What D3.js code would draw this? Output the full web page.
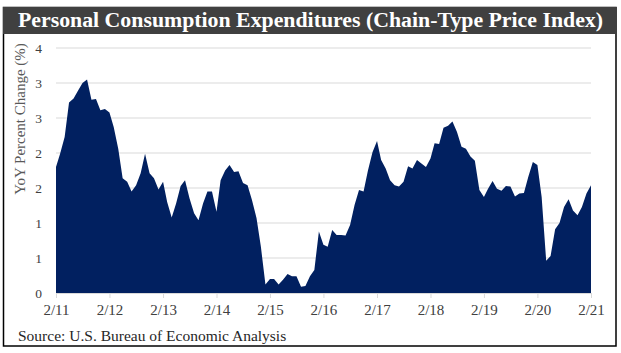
<!DOCTYPE html>
<html>
<head>
<meta charset="utf-8">
<script src="https://cdn.jsdelivr.net/npm/d3@7"></script>
<style>
  body { margin: 0; background: #fff; }
  text { font-family: "Liberation Serif", "DejaVu Serif", serif; }
</style>
</head>
<body>
<script>
// PCE price index, YoY % change, monthly Feb 2011 - Feb 2021
const startMonth = "2011-02";
const pce = [
  1.80, 1.99, 2.23, 2.72, 2.78, 2.89, 3.00, 3.05, 2.76, 2.77, 2.61, 2.63,
  2.58, 2.37, 2.06, 1.64, 1.59, 1.45, 1.54, 1.71, 1.99, 1.71, 1.64, 1.48,
  1.59, 1.30, 1.08, 1.28, 1.53, 1.61, 1.35, 1.14, 1.04, 1.28, 1.45, 1.45,
  1.16, 1.61, 1.75, 1.83, 1.73, 1.74, 1.57, 1.54, 1.33, 1.07, 0.66, 0.12,
  0.20, 0.20, 0.12, 0.19, 0.27, 0.24, 0.24, 0.09, 0.10, 0.24, 0.33, 0.88,
  0.69, 0.66, 0.90, 0.83, 0.83, 0.82, 0.97, 1.26, 1.47, 1.45, 1.75, 2.01,
  2.17, 1.90, 1.78, 1.61, 1.54, 1.52, 1.59, 1.81, 1.78, 1.90, 1.85, 1.80,
  1.92, 2.14, 2.13, 2.36, 2.39, 2.45, 2.30, 2.09, 2.06, 1.95, 1.89, 1.47,
  1.37, 1.49, 1.60, 1.49, 1.46, 1.53, 1.52, 1.38, 1.42, 1.43, 1.66, 1.87,
  1.83, 1.37, 0.46, 0.53, 0.91, 1.00, 1.23, 1.34, 1.18, 1.11, 1.23, 1.42,
  1.54
];
const xTickLabels = ["2/11", "2/12", "2/13", "2/14", "2/15", "2/16", "2/17", "2/18", "2/19", "2/20", "2/21"];
const yTicks = [0, 0.5, 1, 1.5, 2, 2.5, 3, 3.5];

const titleText = "Personal Consumption Expenditures (Chain-Type Price Index)";
const sourceText = "Source:  U.S. Bureau of Economic Analysis";
const yTitle = "YoY Percent Change (%)";

const width = 621, height = 353;
const marginLeft = 56, marginRight = 30, marginTop = 48, marginBottom = 60;

const parseMonth = d3.timeParse("%Y-%m");
const start = parseMonth(startMonth);
const series = pce.map((v, i) => ({ date: d3.timeMonth.offset(start, i), value: v }));
const tickDates = xTickLabels.map((d, i) => d3.timeYear.offset(start, i));

const svg = d3.select("body").append("svg")
  .attr("width", width)
  .attr("height", height);

// frame and title bar
svg.append("rect")
  .attr("x", 3.5).attr("y", 7.5)
  .attr("width", 612.5).attr("height", 338.5)
  .attr("fill", "none")
  .attr("stroke", "#000")
  .attr("stroke-width", 1.5);

svg.append("rect")
  .attr("x", 3).attr("y", 7)
  .attr("width", 614).attr("height", 27)
  .attr("fill", "#404040");

svg.append("text")
  .attr("x", 18).attr("y", 27)
  .attr("fill", "#fff")
  .attr("font-size", 20)
  .attr("font-weight", "bold")
  .attr("textLength", 585)
  .attr("lengthAdjust", "spacingAndGlyphs")
  .text(titleText);

const x = d3.scaleTime()
  .domain(d3.extent(series, d => d.date))
  .range([marginLeft, width - marginRight]);

const y = d3.scaleLinear()
  .domain([0, 3.5])
  .range([height - marginBottom, marginTop]);

// gridlines
svg.append("g")
  .selectAll("line")
  .data(yTicks.filter(d => d > 0))
  .join("line")
  .attr("x1", marginLeft).attr("x2", width - marginRight)
  .attr("y1", d => y(d)).attr("y2", d => y(d))
  .attr("stroke", "#d9d9d9")
  .attr("stroke-width", 1);

// area
const area = d3.area()
  .x(d => x(d.date))
  .y0(y(0))
  .y1(d => y(d.value));

svg.append("path")
  .datum(series)
  .attr("fill", "#012060")
  .attr("d", area);

// x axis
const xAxis = svg.append("g")
  .attr("transform", `translate(0,${y(0)})`)
  .call(d3.axisBottom(x)
    .tickValues(tickDates)
    .tickFormat((d, i) => xTickLabels[i])
    .tickSize(5)
    .tickPadding(6)
    .tickSizeOuter(0));
xAxis.select(".domain").attr("stroke", "#d9d9d9");
xAxis.selectAll(".tick line").attr("stroke", "#d9d9d9");
xAxis.selectAll("text")
  .attr("font-size", 15)
  .attr("fill", "#404040")
  .style("font-family", "Liberation Serif, serif");

// y axis
const yAxis = svg.append("g")
  .attr("transform", `translate(${marginLeft},0)`)
  .call(d3.axisLeft(y)
    .tickValues(yTicks)
    .tickFormat(d3.format(".0f"))
    .tickSize(0)
    .tickPadding(14));
yAxis.select(".domain").remove();
yAxis.selectAll("text")
  .attr("font-size", 13.5)
  .attr("fill", "#404040")
  .style("font-family", "Liberation Serif, serif");

svg.append("text")
  .attr("transform", `translate(25,119) rotate(-90)`)
  .attr("text-anchor", "middle")
  .attr("font-size", 15)
  .attr("fill", "#595959")
  .text(yTitle);

svg.append("text")
  .attr("x", 18).attr("y", 341)
  .attr("font-size", 15.5)
  .attr("fill", "#262626")
  .text(sourceText);
</script>
</body>
</html>
